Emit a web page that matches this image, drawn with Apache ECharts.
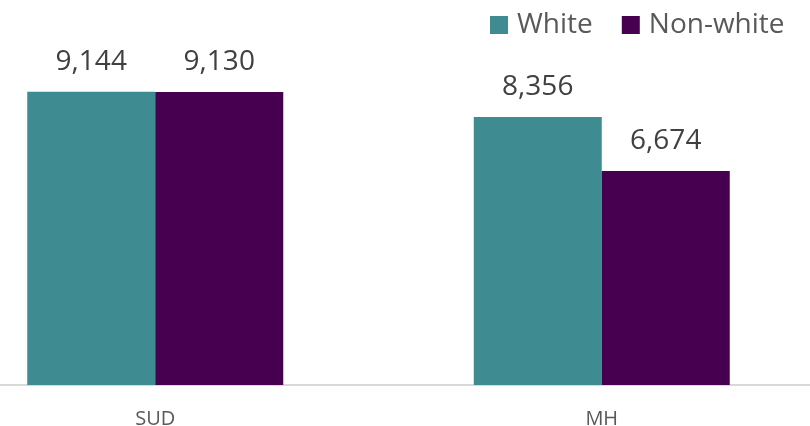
<!DOCTYPE html>
<html>
<head>
<meta charset="utf-8">
<script src="https://cdn.jsdelivr.net/npm/echarts@6/dist/echarts.min.js"></script>
<style>
  html, body { margin: 0; padding: 0; background: #ffffff; }
  #chart { width: 810px; height: 426px; }
</style>
</head>
<body>
<div id="chart"></div>
<script>
// Categories and values for each group
const categories = ['SUD', 'MH'];
const whiteValues = [9144, 8356];
const nonWhiteValues = [9130, 6674];
const seriesNames = ['White', 'Non-white'];

const FONT = '"Open Sans", "DejaVu Sans", sans-serif';
const TEXT_COLOR = '#404040';

const chart = echarts.init(document.getElementById('chart'));

const valueLabel = {
  show: true,
  position: 'top',
  distance: 16,
  fontFamily: FONT,
  fontSize: 28,
  color: TEXT_COLOR,
  formatter: p => p.value.toLocaleString('en-US')
};

chart.setOption({
  animation: false,
  backgroundColor: '#ffffff',
  grid: {
    left: -68, right: -15, top: 0, bottom: 41,
    containLabel: false,
    outerBoundsMode: 'none'
  },
  legend: {
    data: seriesNames,
    left: 485,
    top: 6,
    icon: 'rect',
    itemWidth: 18,
    itemHeight: 18,
    itemGap: 29,
    textStyle: { fontFamily: FONT, fontSize: 28, color: '#595959', padding: [0, 0, 0, 4] }
  },
  xAxis: {
    type: 'category',
    data: categories,
    axisLine: { show: true, lineStyle: { color: '#d9d9d9', width: 2 } },
    axisTick: { show: false },
    axisLabel: { fontFamily: FONT, fontSize: 20, color: '#595959', margin: 24 }
  },
  yAxis: {
    type: 'value',
    min: 0,
    max: 12000,
    show: false,
    splitLine: { show: false }
  },
  series: [
    {
      name: seriesNames[0],
      type: 'bar',
      data: whiteValues,
      barWidth: 128,
      barGap: '0%',
      itemStyle: { color: '#3e8b91' },
      label: valueLabel
    },
    {
      name: seriesNames[1],
      type: 'bar',
      data: nonWhiteValues,
      barWidth: 128,
      itemStyle: { color: '#46004f' },
      label: valueLabel
    }
  ]
});
</script>
</body>
</html>
